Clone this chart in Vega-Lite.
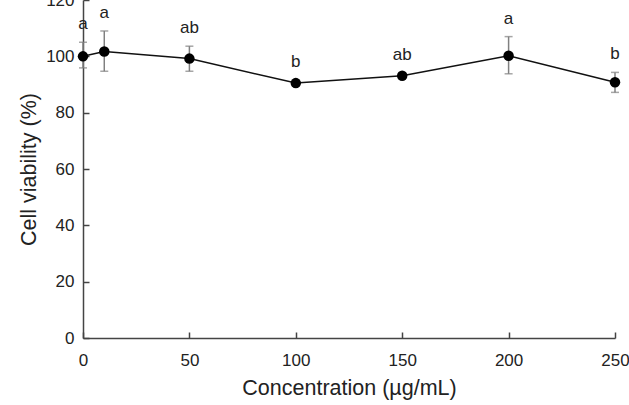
{
  "$schema": "https://vega.github.io/schema/vega-lite/v6.json",
  "autosize": "none",
  "width": 532,
  "height": 338,
  "padding": {"left": 83, "top": 0, "right": 14, "bottom": 67},
  "background": "white",
  "config": {
    "view": {"stroke": null},
    "font": "Liberation Sans",
    "axis": {
      "grid": false,
      "domainColor": "#444444",
      "domainWidth": 1.5,
      "tickColor": "#444444",
      "tickWidth": 1.5,
      "tickSize": -6,
      "labelFont": "Liberation Sans",
      "labelFontSize": 17,
      "labelColor": "#222222",
      "titleFont": "Liberation Sans",
      "titleFontSize": 21.5,
      "titleFontWeight": "normal",
      "titleColor": "#222222"
    }
  },
  "data": {
    "values": [
      {"conc": 0, "viability": 100.0, "lo": 95.9, "hi": 105.0, "group": "a"},
      {"conc": 10, "viability": 101.7, "lo": 94.7, "hi": 109.0, "group": "a"},
      {"conc": 50, "viability": 99.2, "lo": 94.7, "hi": 103.6, "group": "ab"},
      {"conc": 100, "viability": 90.5, "lo": 89.5, "hi": 91.5, "group": "b"},
      {"conc": 150, "viability": 93.1, "lo": 92.2, "hi": 94.0, "group": "ab"},
      {"conc": 200, "viability": 100.2, "lo": 93.8, "hi": 107.0, "group": "a"},
      {"conc": 250, "viability": 90.8, "lo": 87.2, "hi": 94.3, "group": "b"}
    ]
  },
  "encoding": {
    "x": {
      "field": "conc",
      "type": "quantitative",
      "scale": {"domain": [0, 250], "nice": false},
      "axis": {
        "values": [0, 50, 100, 150, 200, 250],
        "title": "Concentration (µg/mL)",
        "labelPadding": 20,
        "titlePadding": 9,
        "labelFlush": false
      }
    }
  },
  "layer": [
    {
      "mark": {"type": "rule", "color": "#808080", "strokeWidth": 1.5},
      "encoding": {
        "y": {"field": "lo", "type": "quantitative"},
        "y2": {"field": "hi"}
      }
    },
    {
      "mark": {"type": "tick", "orient": "horizontal", "color": "#808080", "size": 8, "thickness": 1.5},
      "encoding": {"y": {"field": "lo", "type": "quantitative"}}
    },
    {
      "mark": {"type": "tick", "orient": "horizontal", "color": "#808080", "size": 8, "thickness": 1.5},
      "encoding": {"y": {"field": "hi", "type": "quantitative"}}
    },
    {
      "mark": {"type": "line", "color": "#111111", "strokeWidth": 1.5},
      "encoding": {
        "y": {
          "field": "viability",
          "type": "quantitative",
          "scale": {"domain": [0, 120], "nice": false},
          "axis": {
            "values": [0, 20, 40, 60, 80, 100, 120],
            "title": "Cell viability (%)",
            "labelPadding": 15,
            "titlePadding": 5,
            "labelFlush": false
          }
        }
      }
    },
    {
      "mark": {"type": "point", "filled": true, "color": "#000000", "opacity": 1, "size": 110},
      "encoding": {"y": {"field": "viability", "type": "quantitative"}}
    },
    {
      "mark": {"type": "text", "fontSize": 17, "color": "#222222", "baseline": "middle", "dy": -18, "font": "Liberation Sans"},
      "encoding": {
        "y": {"field": "hi", "type": "quantitative"},
        "text": {"field": "group"}
      }
    }
  ]
}
